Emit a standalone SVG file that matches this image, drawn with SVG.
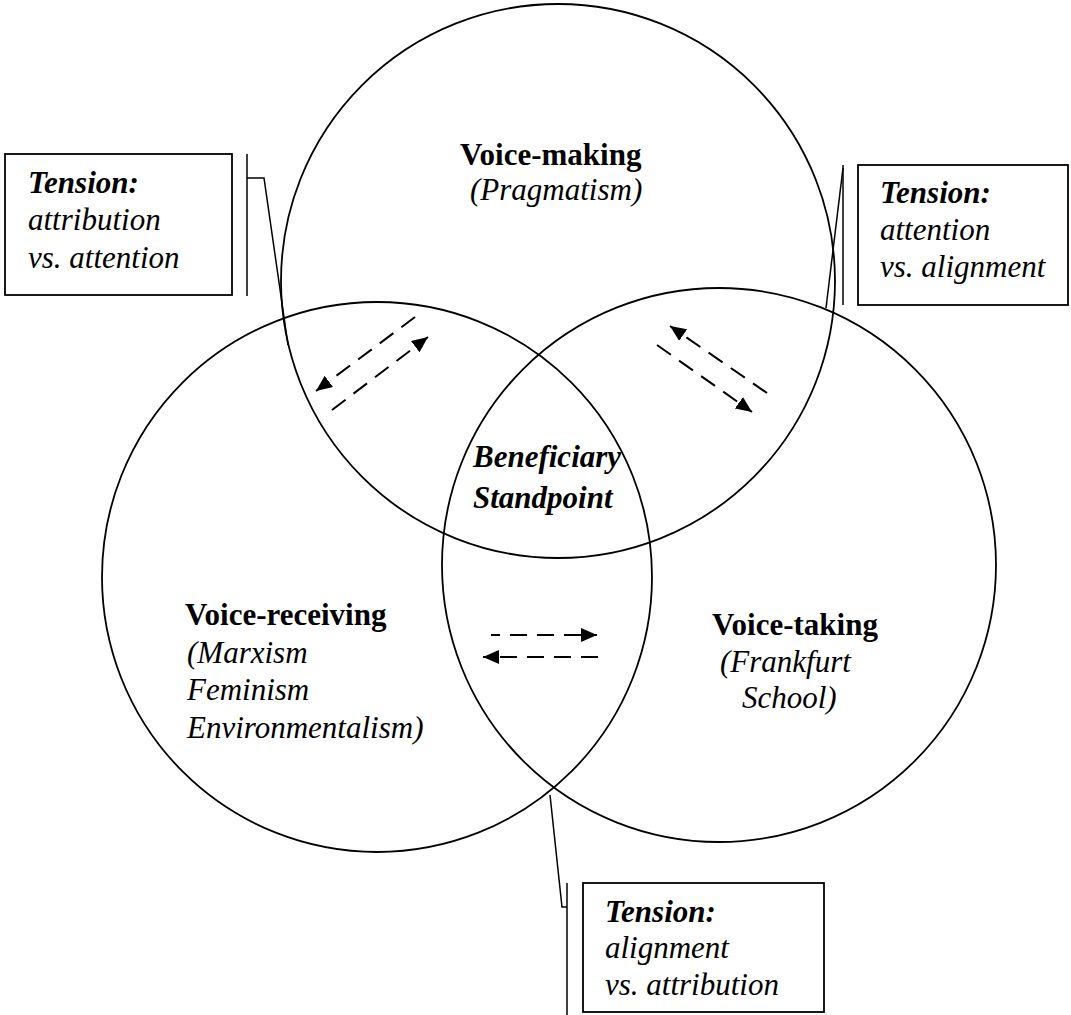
<svg xmlns="http://www.w3.org/2000/svg" width="1071" height="1015" viewBox="0 0 1071 1015">
<style>
.c{fill:none;stroke:#000;stroke-width:1.8}
.box{fill:#fff;stroke:#000;stroke-width:1.8}
.ld{fill:none;stroke:#000;stroke-width:1.5}
.d{fill:none;stroke:#000;stroke-width:2;stroke-dasharray:17 10}
.t{font-family:"Liberation Serif","Times New Roman",serif;font-size:31px;fill:#000}
.b{font-weight:bold}
.i{font-style:italic}
</style>
<defs>
<marker id="ah" markerUnits="userSpaceOnUse" markerWidth="18" markerHeight="14" refX="16" refY="7" orient="auto">
<path d="M0,0 L16,7 L0,14 Z" fill="#000"/>
</marker>
</defs>
<g id="circle-top"><circle class="c" cx="558" cy="281" r="277"/></g>
<g id="circle-left"><circle class="c" cx="377" cy="577" r="275"/></g>
<g id="circle-right"><circle class="c" cx="719" cy="565" r="277"/></g>
<g id="connectors">
<line class="d" x1="415" y1="317" x2="316" y2="391" marker-end="url(#ah)"/>
<line class="d" x1="332" y1="410" x2="428" y2="337" marker-end="url(#ah)"/>
<line class="d" x1="767" y1="393" x2="670" y2="326" marker-end="url(#ah)"/>
<line class="d" x1="657" y1="345" x2="752" y2="412" marker-end="url(#ah)"/>
<line class="d" x1="491" y1="635" x2="597" y2="635" marker-end="url(#ah)" stroke-dashoffset="8"/>
<line class="d" x1="598" y1="657" x2="483" y2="657" marker-end="url(#ah)"/>
<polyline class="ld" points="247,178 264,178 288,345"/>
<line class="ld" x1="247" y1="154" x2="247" y2="296"/>
<line class="ld" x1="843" y1="168" x2="826" y2="308"/>
<line class="ld" x1="843" y1="165" x2="843" y2="305"/>
<polyline class="ld" points="567,907 562,907 550,795"/>
<line class="ld" x1="567" y1="883" x2="567" y2="1015"/>
</g>
<g id="node-making">
<text class="t b" x="460" y="165">Voice-making</text>
<text class="t i" x="470" y="200">(Pragmatism)</text>
</g>
<g id="node-beneficiary">
<text class="t b i" x="473" y="467">Beneficiary</text>
<text class="t b i" x="473" y="508">Standpoint</text>
</g>
<g id="node-receiving">
<text class="t b" x="185" y="625">Voice-receiving</text>
<text class="t i" x="187" y="663">(Marxism</text>
<text class="t i" x="187" y="700">Feminism</text>
<text class="t i" x="187" y="738">Environmentalism)</text>
</g>
<g id="node-taking">
<text class="t b" x="712" y="635">Voice-taking</text>
<text class="t i" x="720" y="672">(Frankfurt</text>
<text class="t i" x="742" y="708">School)</text>
</g>
<g id="tension-left">
<rect class="box" x="5" y="154" width="227" height="141"/>
<text class="t b i" x="28" y="193">Tension:</text>
<text class="t i" x="28" y="230">attribution</text>
<text class="t i" x="28" y="268">vs. attention</text>
</g>
<g id="tension-right">
<rect class="box" x="858" y="165" width="210" height="140"/>
<text class="t b i" x="880" y="203">Tension:</text>
<text class="t i" x="880" y="240">attention</text>
<text class="t i" x="880" y="277">vs. alignment</text>
</g>
<g id="tension-bottom">
<rect class="box" x="583" y="883" width="241" height="129"/>
<text class="t b i" x="605" y="922">Tension:</text>
<text class="t i" x="605" y="958">alignment</text>
<text class="t i" x="605" y="995">vs. attribution</text>
</g>
</svg>
